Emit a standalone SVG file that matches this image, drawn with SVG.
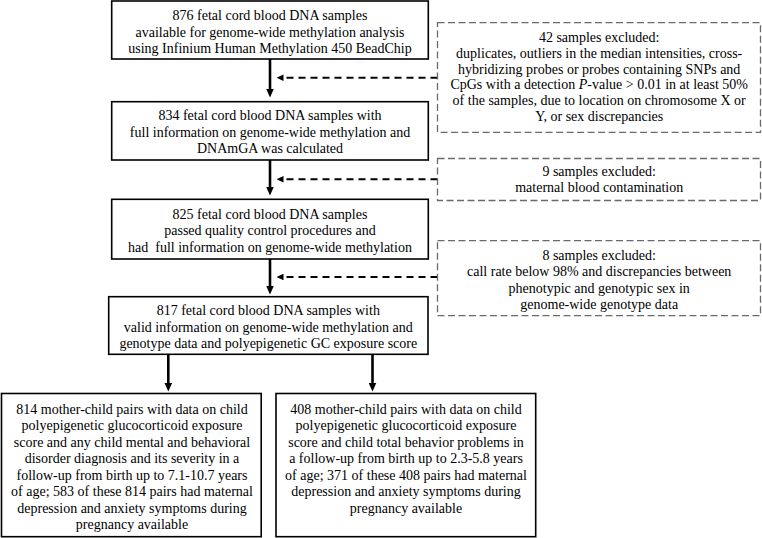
<svg xmlns="http://www.w3.org/2000/svg" width="762" height="538" viewBox="0 0 762 538">
<style>
  .box { fill: #ffffff; stroke: #000000; stroke-width: 1.6; }
  .dbox { fill: #ffffff; stroke: #6a6a6a; stroke-width: 1.3; stroke-dasharray: 7 3.5; }
  text { font-family: "Liberation Serif", "Times New Roman", serif; font-size: 14px; fill: #000000; text-anchor: middle; }
  .solid { stroke: #000000; stroke-width: 2.6; fill: none; marker-end: url(#ah); }
  .dash { stroke: #000000; stroke-width: 2; stroke-dasharray: 7 5; fill: none; marker-end: url(#dh); }
</style>
<defs>
  <marker id="ah" viewBox="0 0 9 8" markerUnits="userSpaceOnUse" markerWidth="9" markerHeight="8" refX="2" refY="4" orient="auto">
    <path d="M0,0 L9,4 L0,8 z" fill="#000000"/>
  </marker>
  <marker id="dh" viewBox="0 0 7 6.5" markerUnits="userSpaceOnUse" markerWidth="7" markerHeight="6.5" refX="2" refY="3.25" orient="auto">
    <path d="M0,0 L7,3.25 L0,6.5 z" fill="#000000"/>
  </marker>
</defs>
<rect width="762" height="538" fill="#ffffff"/>

<g id="connectors">
  <line class="solid" x1="270" y1="59" x2="270" y2="90.5"/>
  <line class="solid" x1="270" y1="160" x2="270" y2="188.5"/>
  <line class="solid" x1="270" y1="259" x2="270" y2="287.5"/>
  <line class="solid" x1="168.3" y1="354.3" x2="168.3" y2="384.5"/>
  <line class="solid" x1="372.5" y1="354.3" x2="372.5" y2="384.5"/>
  <line class="dash" x1="437.5" y1="77.7" x2="281.5" y2="77.7"/>
  <line class="dash" x1="437.5" y1="179.3" x2="281.5" y2="179.3"/>
  <line class="dash" x1="437.5" y1="277" x2="281.5" y2="277"/>
</g>

<g id="n876">
  <rect class="box" x="111.7" y="1" width="316.6" height="58"/>
  <text x="270" y="20">876 fetal cord blood DNA samples</text>
  <text x="270" y="36.5">available for genome-wide methylation analysis</text>
  <text x="270" y="53">using Infinium Human Methylation 450 BeadChip</text>
</g>

<g id="n834">
  <rect class="box" x="111.7" y="101.7" width="316.6" height="58.3"/>
  <text x="270" y="120">834 fetal cord blood DNA samples with</text>
  <text x="270" y="136.5">full information on genome-wide methylation and</text>
  <text x="270" y="153">DNAmGA was calculated</text>
</g>

<g id="n825">
  <rect class="box" x="111.7" y="199.3" width="316.6" height="59.7"/>
  <text x="270" y="218.5">825 fetal cord blood DNA samples</text>
  <text x="270" y="235">passed quality control procedures and</text>
  <text x="270" y="251.5">had&#160; full information on genome-wide methylation</text>
</g>

<g id="n817">
  <rect class="box" x="108.7" y="296.7" width="319.3" height="57.6"/>
  <text x="268.3" y="315">817 fetal cord blood DNA samples with</text>
  <text x="268.3" y="331.5">valid information on genome-wide methylation and</text>
  <text x="268.3" y="348">genotype data and polyepigenetic GC exposure score</text>
</g>

<g id="n814">
  <rect class="box" x="1.5" y="393.5" width="259.7" height="143.2"/>
  <text x="132" y="413.5">814 mother-child pairs with data on child</text>
  <text x="132" y="430">polyepigenetic glucocorticoid exposure</text>
  <text x="132" y="446.5">score and any child mental and behavioral</text>
  <text x="132" y="463">disorder diagnosis and its severity in a</text>
  <text x="132" y="479.5">follow-up from birth up to 7.1-10.7 years</text>
  <text x="132" y="496">of age; 583 of these 814 pairs had maternal</text>
  <text x="132" y="512.5">depression and anxiety symptoms during</text>
  <text x="132" y="529">pregnancy available</text>
</g>

<g id="n408">
  <rect class="box" x="276" y="393.5" width="259.7" height="143.2"/>
  <text x="406" y="413.5">408 mother-child pairs with data on child</text>
  <text x="406" y="430">polyepigenetic glucocorticoid exposure</text>
  <text x="406" y="446.5">score and child total behavior problems in</text>
  <text x="406" y="463">a follow-up from birth up to 2.3-5.8 years</text>
  <text x="406" y="479.5">of age; 371 of these 408 pairs had maternal</text>
  <text x="406" y="496">depression and anxiety symptoms during</text>
  <text x="406" y="512.5">pregnancy available</text>
</g>

<g id="ex42">
  <rect class="dbox" x="437.5" y="22.7" width="323" height="109.6"/>
  <text x="599.2" y="42.3">42 samples excluded:</text>
  <text x="599.2" y="58">duplicates, outliers in the median intensities, cross-</text>
  <text x="599.2" y="73.7">hybridizing probes or probes containing SNPs and</text>
  <text x="599.2" y="89.4">CpGs with a detection <tspan font-style="italic">P</tspan>-value &gt; 0.01 in at least 50%</text>
  <text x="599.2" y="105.1">of the samples, due to location on chromosome X or</text>
  <text x="599.2" y="120.8">Y, or sex discrepancies</text>
</g>

<g id="ex9">
  <rect class="dbox" x="437.5" y="158.5" width="323" height="42"/>
  <text x="599.2" y="175.8">9 samples excluded:</text>
  <text x="599.2" y="192.3">maternal blood contamination</text>
</g>

<g id="ex8">
  <rect class="dbox" x="437.5" y="240.7" width="323" height="75"/>
  <text x="599.2" y="259.5">8 samples excluded:</text>
  <text x="599.2" y="276">call rate below 98% and discrepancies between</text>
  <text x="599.2" y="292.5">phenotypic and genotypic sex in</text>
  <text x="599.2" y="309.2">genome-wide genotype data</text>
</g>
</svg>
